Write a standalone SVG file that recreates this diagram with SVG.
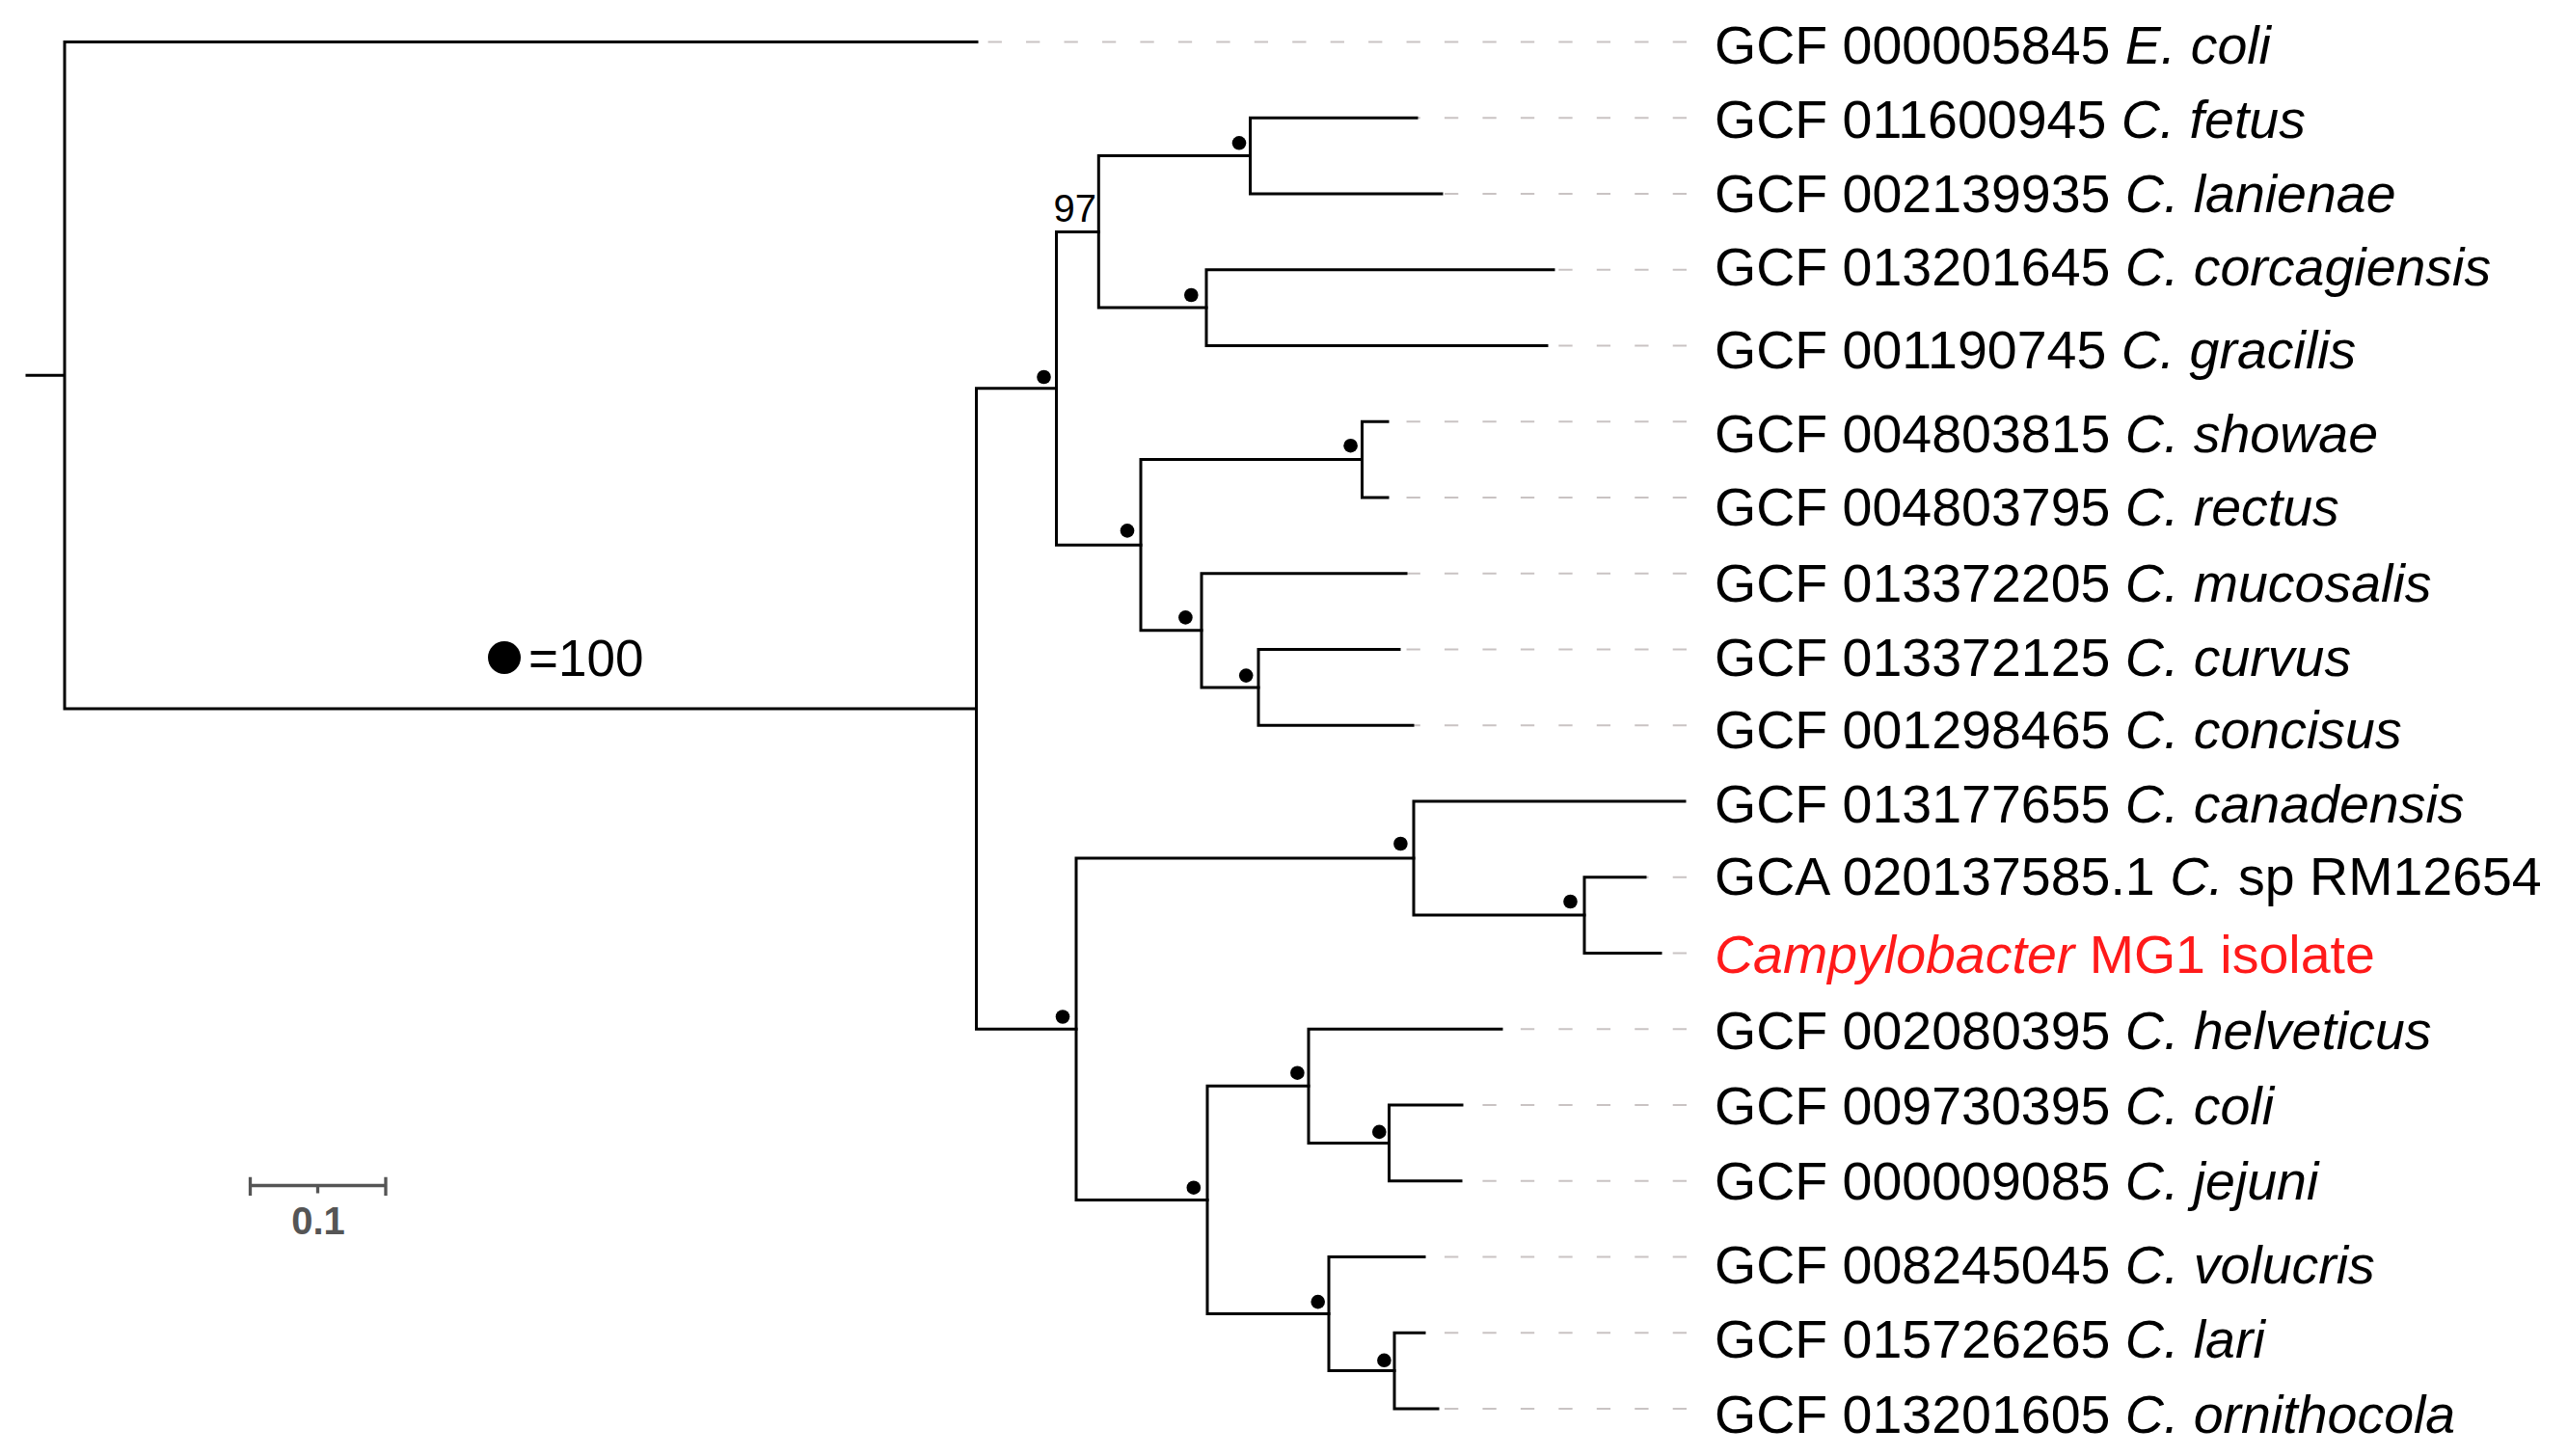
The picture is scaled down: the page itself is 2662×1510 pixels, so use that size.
<svg xmlns="http://www.w3.org/2000/svg" width="2662" height="1510" viewBox="0 0 2662 1510">
<style>
.br{fill:none;stroke:#000;stroke-width:3;stroke-linecap:square;stroke-linejoin:miter}
.gd{fill:none;stroke:#c9c3c3;stroke-width:2;stroke-dasharray:14.3 25.15}
.dot{fill:#000}
.lb{font-family:"Liberation Sans",Arial,sans-serif;font-size:55.5px;fill:#000}
.i{font-style:italic}
.red{fill:#ff1a1a}
.sb{fill:none;stroke:#555;stroke-width:3.3}
.sbt{font-family:"Liberation Sans",Arial,sans-serif;font-size:40px;font-weight:bold;fill:#555;text-anchor:middle}
.bs{font-family:"Liberation Sans",Arial,sans-serif;font-size:40px;fill:#000;text-anchor:end}
</style>
<rect width="2662" height="1510" fill="#fff"/>
<g id="connectors">
<path class="gd" d="M1749 43.5H1013 M1749 122.25H1469 M1749 201H1495 M1749 279.75H1611 M1749 358.5H1604 M1749 437.25H1439 M1749 516H1439 M1749 594.75H1458 M1749 673.5H1451 M1749 752.25H1465 M1749 909.75H1706 M1749 988.5H1722 M1749 1067.25H1557 M1749 1146H1516 M1749 1224.75H1515 M1749 1303.5H1477 M1749 1382.25H1477 M1749 1461H1491"/>
<path class="br" d="M28 389.2H67 M1013 43.5H67V735H1012.5"/>
<path class="br" d="M1095.5 402.8H1012.5V1067.2H1116"/>
<path class="br" d="M1139.3 240.4H1095.5V565.2H1183"/>
<path class="br" d="M1296.5 161.6H1139.3V319.1H1251"/>
<path class="br" d="M1469 122.25H1296.5V201H1495"/>
<path class="br" d="M1611 279.75H1251V358.5H1604"/>
<path class="br" d="M1412.5 476.6H1183V653.8H1246"/>
<path class="br" d="M1439 437.25H1412.5V516H1439"/>
<path class="br" d="M1458 594.75H1246V712.9H1305"/>
<path class="br" d="M1451 673.5H1305V752.25H1465"/>
<path class="br" d="M1466 890H1116V1244.4H1252"/>
<path class="br" d="M1747 831H1466V949.1H1643"/>
<path class="br" d="M1706 909.75H1643V988.5H1722"/>
<path class="br" d="M1357 1126.3H1252V1362.6H1378"/>
<path class="br" d="M1557 1067.25H1357V1185.4H1440.5"/>
<path class="br" d="M1516 1146H1440.5V1224.75H1515"/>
<path class="br" d="M1477 1303.5H1378V1421.6H1446"/>
<path class="br" d="M1477 1382.25H1446V1461H1491"/>
</g>
<g id="support">
<g id="n_fl"><circle class="dot" cx="1285" cy="148.3" r="7.3"/></g>
<g id="n_cg"><circle class="dot" cx="1235.3" cy="306" r="7.3"/></g>
<g id="n_up"><circle class="dot" cx="1082.5" cy="391" r="7.3"/></g>
<g id="n_97"><text class="bs" x="1137" y="230">97</text></g>
<g id="n_s2"><circle class="dot" cx="1169" cy="550.4" r="7.3"/></g>
<g id="n_m"><circle class="dot" cx="1229.4" cy="640.4" r="7.3"/></g>
<g id="n_cc"><circle class="dot" cx="1292.2" cy="700.6" r="7.3"/></g>
<g id="n_sr"><circle class="dot" cx="1400.6" cy="462.2" r="7.3"/></g>
<g id="n_low"><circle class="dot" cx="1102" cy="1054.5" r="7.3"/></g>
<g id="n_low2"><circle class="dot" cx="1237.8" cy="1231.7" r="7.3"/></g>
<g id="n_can"><circle class="dot" cx="1452.4" cy="875" r="7.3"/></g>
<g id="n_gm"><circle class="dot" cx="1628.5" cy="935" r="7.3"/></g>
<g id="n_h"><circle class="dot" cx="1345.4" cy="1112.7" r="7.3"/></g>
<g id="n_cj"><circle class="dot" cx="1430.3" cy="1173.9" r="7.3"/></g>
<g id="n_v"><circle class="dot" cx="1366.7" cy="1350.1" r="7.3"/></g>
<g id="n_lo"><circle class="dot" cx="1435.4" cy="1410.8" r="7.3"/></g>
</g>
<g id="leaf_ecoli"><text class="lb" x="1778" y="66.3">GCF 000005845 <tspan class="i">E. coli</tspan></text></g>
<g id="leaf_fetus"><text class="lb" x="1778" y="143">GCF 011600945 <tspan class="i">C. fetus</tspan></text></g>
<g id="leaf_lanienae"><text class="lb" x="1778" y="220.3">GCF 002139935 <tspan class="i">C. lanienae</tspan></text></g>
<g id="leaf_corcagiensis"><text class="lb" x="1778" y="295.5">GCF 013201645 <tspan class="i">C. corcagiensis</tspan></text></g>
<g id="leaf_gracilis"><text class="lb" x="1778" y="382.4">GCF 001190745 <tspan class="i">C. gracilis</tspan></text></g>
<g id="leaf_showae"><text class="lb" x="1778" y="468.7">GCF 004803815 <tspan class="i">C. showae</tspan></text></g>
<g id="leaf_rectus"><text class="lb" x="1778" y="545.2">GCF 004803795 <tspan class="i">C. rectus</tspan></text></g>
<g id="leaf_mucosalis"><text class="lb" x="1778" y="623.5">GCF 013372205 <tspan class="i">C. mucosalis</tspan></text></g>
<g id="leaf_curvus"><text class="lb" x="1778" y="700.5">GCF 013372125 <tspan class="i">C. curvus</tspan></text></g>
<g id="leaf_concisus"><text class="lb" x="1778" y="776">GCF 001298465 <tspan class="i">C. concisus</tspan></text></g>
<g id="leaf_canadensis"><text class="lb" x="1778" y="852.6">GCF 013177655 <tspan class="i">C. canadensis</tspan></text></g>
<g id="leaf_rm12654"><text class="lb" x="1778" y="928.4">GCA 020137585.1 <tspan class="i">C.</tspan> sp RM12654</text></g>
<g id="leaf_mg1"><text class="lb red" x="1778" y="1008.5"><tspan class="i">Campylobacter</tspan> MG1 isolate</text></g>
<g id="leaf_helveticus"><text class="lb" x="1778" y="1088">GCF 002080395 <tspan class="i">C. helveticus</tspan></text></g>
<g id="leaf_coli"><text class="lb" x="1778" y="1165.7">GCF 009730395 <tspan class="i">C. coli</tspan></text></g>
<g id="leaf_jejuni"><text class="lb" x="1778" y="1243.5">GCF 000009085 <tspan class="i">C. jejuni</tspan></text></g>
<g id="leaf_volucris"><text class="lb" x="1778" y="1331">GCF 008245045 <tspan class="i">C. volucris</tspan></text></g>
<g id="leaf_lari"><text class="lb" x="1778" y="1408.3">GCF 015726265 <tspan class="i">C. lari</tspan></text></g>
<g id="leaf_ornithocola"><text class="lb" x="1778" y="1485.5">GCF 013201605 <tspan class="i">C. ornithocola</tspan></text></g>
<g id="legend">
<circle class="dot" cx="523" cy="682" r="17"/>
<text x="548" y="700.7" style="font-family:'Liberation Sans',Arial,sans-serif;font-size:53px;fill:#000">=100</text>
</g>
<g id="scalebar">
<path class="sb" d="M259.5 1220.7V1240 M259.5 1229.5H400 M400 1220.7V1240 M329.5 1229.5V1237.5"/>
<text class="sbt" x="330" y="1280">0.1</text>
</g>
</svg>
